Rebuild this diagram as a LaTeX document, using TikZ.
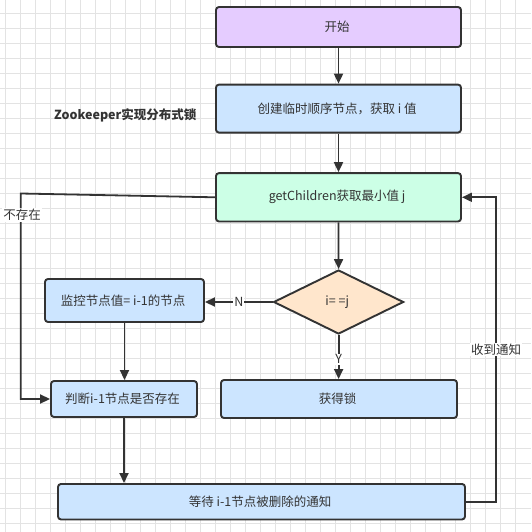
\documentclass[tikz,border=0pt]{standalone}
\usepackage{fontspec}
\setmainfont{Noto Sans CJK SC}
\usetikzlibrary{arrows.meta, positioning, shapes.geometric}
\definecolor{startfill}{HTML}{E5CCFF}
\definecolor{bluefill}{HTML}{CCE5FF}
\definecolor{greenfill}{HTML}{CCFFE6}
\definecolor{orangefill}{HTML}{FFE6CC}
\definecolor{edgegray}{HTML}{333333}
\definecolor{textgray}{HTML}{333333}
\definecolor{gridgray}{HTML}{E3E3E3}
\tikzset{LockFlow/.style={
    x = 1pt, y = -1pt,
    font = \fontsize{12.5}{15}\selectfont, text = textgray,
    base/.style = {draw=edgegray, line width=1.9pt, rounded corners=3pt, inner sep=0pt, align=center},
    process/.style = {base, fill=bluefill},
    decision/.style = {base, diamond, sharp corners, fill=orangefill},
    link/.style = {draw=edgegray, line width=1.8pt, -{Triangle[length=10pt, width=9pt]}},
    tag/.style = {fill=white, inner sep=1pt},
    gridline/.style = {draw=gridgray, line width=0.6pt}
}}

\begin{document}
\begin{tikzpicture}[LockFlow]
    \useasboundingbox (0,0) rectangle (531,532);
    \fill [white] (0,0) rectangle (531,532);
    \foreach \gx in {5.7,20.7,...,530} \draw [gridline] (\gx,0) -- (\gx,532);
    \foreach \gy in {13.3,28.3,...,531} \draw [gridline] (0,\gy) -- (531,\gy);

    \node [font=\fontsize{12.5}{15}\selectfont\bfseries] (title) at (125.3,115) {Zookeeper实现分布式锁};

    \node [process, fill=startfill, minimum width=245pt, minimum height=40pt] (start) at (338.5,27) {
        开始
    };
    \node [process, minimum width=245pt, minimum height=48pt, below=35.7pt of start] (create) {
        创建临时顺序节点，获取 i 值
    };
    \node [process, fill=greenfill, minimum width=245pt, minimum height=48.4pt, below=38.6pt of create] (getmin) {
        getChildren获取最小值 j
    };
    \node [decision, minimum width=130pt, minimum height=64pt] (cmp) at (338.6,302) {
        i= =j
    };
    \node [process, minimum width=159pt, minimum height=43pt] (watch) at (124.5,300.5) {
        监控节点值= i-1的节点
    };
    \node [process, minimum width=146pt, minimum height=36pt] (judge) at (124,399) {
        判断i-1节点是否存在
    };
    \node [process, minimum width=236pt, minimum height=38pt] (acquire) at (339,399) {
        获得锁
    };
    \node [process, minimum width=407pt, minimum height=35.5pt] (wait) at (261.5,501.7) {
        等待 i-1节点被删除的通知
    };

    \coordinate (leftrail) at (20.7,193.5);
    \coordinate (rightrail) at (495.7,501.7);

    \draw [link] (start) -- (create);
    \draw [link] (create) -- (getmin);
    \draw [link] (getmin) -- (cmp);
    \draw [link] (cmp.west) -- node [tag] (nlabel) {N} (watch.east |- cmp.west);
    \draw [link] (cmp.south) -- node [tag, pos=0.55] (ylabel) {Y} (cmp.south |- acquire.north);
    \draw [link] (watch.south) -- (watch.south |- judge.north);
    \draw [link] (judge.south) -- (judge.south |- wait.north);
    \draw [link] (getmin.west) -- (leftrail) |- (judge.west);
    \draw [link] (wait.east) -- (rightrail) |- (getmin.east);

    \node [tag] (absent) at (22,215) {不存在};
    \node [tag] (notify) at (496,349.5) {收到通知};
\end{tikzpicture}
\end{document}
